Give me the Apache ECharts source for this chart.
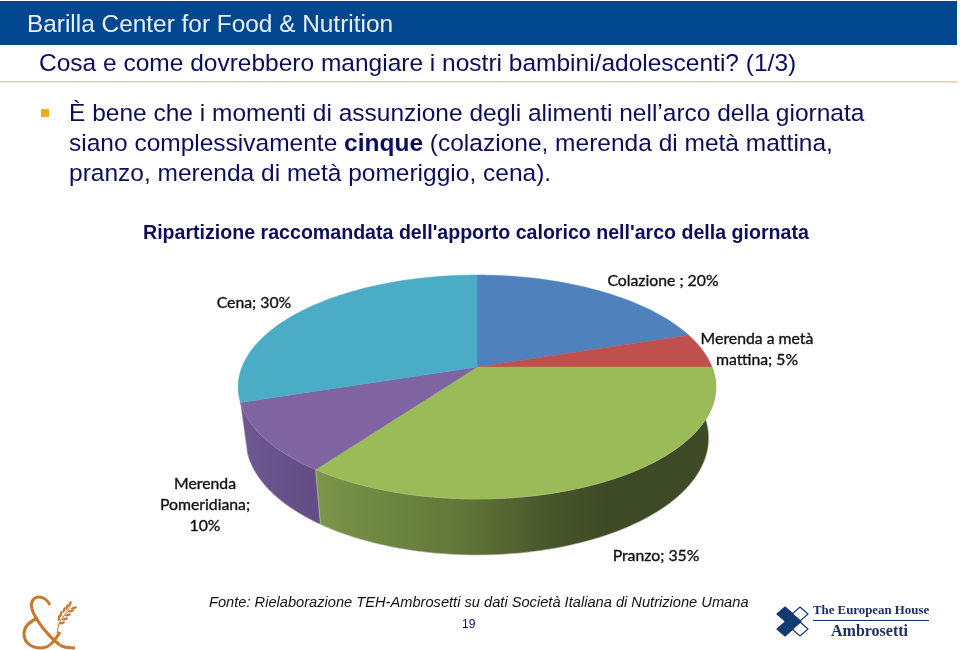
<!DOCTYPE html>
<html>
<head>
<meta charset="utf-8">
<title>Ripartizione apporto calorico</title>
<style>
  html, body { margin: 0; padding: 0; background: #fff; }
  #chart { width: 960px; height: 650px; }
</style>
<script src="https://cdn.jsdelivr.net/npm/echarts@6/dist/echarts.min.js"></script>
</head>
<body>
<div id="chart"></div>
<script>
const categories = ["Colazione", "Merenda a metà mattina", "Pranzo", "Merenda Pomeridiana", "Cena"];
const shares = [20, 5, 35, 10, 30];
const sliceLabels = ["Colazione ; 20%", "Merenda a metà\nmattina; 5%", "Pranzo; 35%", "Merenda\nPomeridiana;\n10%", "Cena; 30%"];
const sliceColors = ["#4f81bd", "#c0504d", "#9bbb59", "#8064a2", "#4bacc6"];

const total = shares.reduce((a, b) => a + b, 0);
const navy = "#0d0d5e";
const copper = "#c9772c";
const sans = "'Liberation Sans', Arial, sans-serif";
const serif = "'Liberation Serif', 'DejaVu Serif', serif";

// perspective of the tilted pie, fitted on the slice corners of the picture
const pie = { cx: 477, cy: 367, a: 235, b: 108.4, k: 0.1786 };
const labelAnchors = [[663, 281], [757, 349], [656, 556], [205, 505], [254, 303]];

function topPoint(turn) {
  const t = turn * 2 * Math.PI;
  const u = Math.sin(t);
  const v = -Math.cos(t);
  const w = 1 - pie.k * v;
  return [pie.cx + pie.a * u / w, pie.cy + pie.b * v / w];
}

function bottomPoint(turn) {
  const p = topPoint(turn);
  const v = -Math.cos(turn * 2 * Math.PI);
  return [pie.cx + 0.97 * (p[0] - pie.cx), p[1] + 50 + 6 * v];
}

function rim(from, to, fn) {
  const pts = [];
  const steps = Math.max(2, Math.ceil((to - from) * 240));
  for (let i = 0; i <= steps; i++) {
    pts.push(fn(from + (to - from) * i / steps));
  }
  return pts;
}

function sliceRange(index) {
  let before = 0;
  for (let i = 0; i < index; i++) before += shares[i];
  return [before / total, (before + shares[index]) / total];
}

const wallFills = {
  2: { type: "linear", global: true, x: 318, y: 0, x2: 712, y2: 0, colorStops: [
    { offset: 0, color: "#7a9649" },
    { offset: 0.208, color: "#6b8340" },
    { offset: 0.335, color: "#64793a" },
    { offset: 0.437, color: "#5a6c35" },
    { offset: 0.614, color: "#45522a" },
    { offset: 0.741, color: "#3e4a25" },
    { offset: 1, color: "#3e4a25" }
  ] },
  3: { type: "linear", global: true, x: 240, y: 0, x2: 318, y2: 0, colorStops: [
    { offset: 0, color: "#6d5892" },
    { offset: 1, color: "#624d84" }
  ] }
};

function renderWall(params) {
  const range = sliceRange(params.dataIndex);
  const mid = (range[0] + range[1]) / 2;
  // walls of the back slices stay hidden behind the top face
  if (Math.cos(mid * 2 * Math.PI) > 0) return null;
  const points = rim(range[0], range[1], topPoint).concat(rim(range[0], range[1], bottomPoint).reverse());
  return {
    type: "polygon",
    shape: { points: points },
    style: { fill: wallFills[params.dataIndex], stroke: "#b9b9ae", lineWidth: 0.6 }
  };
}

function renderTop(params) {
  const range = sliceRange(params.dataIndex);
  const points = [[pie.cx, pie.cy]].concat(rim(range[0], range[1], topPoint));
  const anchor = labelAnchors[params.dataIndex];
  return {
    type: "group",
    children: [
      {
        type: "polygon",
        shape: { points: points },
        style: { fill: sliceColors[params.dataIndex], stroke: sliceColors[params.dataIndex], lineWidth: 0.5 }
      },
      {
        type: "text",
        z2: 10,
        style: {
          text: sliceLabels[params.dataIndex],
          x: anchor[0],
          y: anchor[1],
          align: "center",
          verticalAlign: "middle",
          lineHeight: 21,
          fontFamily: "Lato, sans-serif",
          fontSize: 15.8,
          fill: "#111",
          stroke: "#111",
          lineWidth: 0.35
        }
      }
    ]
  };
}

function textEl(text, x, y, font, fill, extra) {
  return {
    type: "text",
    x: x,
    y: y,
    style: Object.assign({ text: text, font: font, fill: fill, verticalAlign: "middle" }, extra || {})
  };
}

// strokes of the ampersand: x1, y1, cpx1, cpy1, cpx2, cpy2, x2, y2
const ampersandStrokes = [
  [50, 605, 47, 599, 42, 597, 39, 597],
  [39, 597, 33, 597, 30, 603, 32, 609],
  [32, 609, 35, 620, 50, 638, 60, 645],
  [60, 645, 64, 648, 70, 648, 75, 648],
  [38, 618, 28, 622, 24, 628, 24, 634],
  [24, 634, 24, 643, 32, 648, 41, 648],
  [41, 648, 49, 648, 54, 642, 60, 632]
];

// ear of wheat next to the ampersand: [x, y, angle]
const wheatGrains = [
  [70, 604, 65], [74, 608, 15],
  [67, 607, 70], [71, 611, 15],
  [64, 610, 75], [68, 615, 15],
  [61, 614, 80], [65, 619, 15],
  [59, 618, 85], [62, 623, 20]
];

const logoOpen = [[800, 614], [800, 629]];
const logoSolid = [[785, 614], [785, 629], [793, 621.5]];

function diamond(d, fill, stroke) {
  return {
    type: "polygon",
    shape: { points: [[d[0], d[1] - 7], [d[0] + 8, d[1]], [d[0], d[1] + 7], [d[0] - 8, d[1]]] },
    style: { fill: fill, stroke: stroke, lineWidth: 1.2 }
  };
}

const chart = echarts.init(document.getElementById("chart"), null, { renderer: "canvas" });
chart.setOption({
  animation: false,
  backgroundColor: "#fff",
  graphic: { elements: [
    { type: "rect", shape: { x: 0, y: 1, width: 957, height: 44 }, style: { fill: "#00478f" } },
    textEl("Barilla Center for Food & Nutrition", 27, 25, "24.4px " + sans, "#e8f0f8"),
    textEl("Cosa e come dovrebbero mangiare i nostri bambini/adolescenti? (1/3)", 39, 64, "24.5px " + sans, navy),
    { type: "rect", shape: { x: 0, y: 81, width: 958, height: 1.5 }, style: { fill: "#e3d29a" } },
    { type: "rect", shape: { x: 41, y: 109, width: 8, height: 8 }, style: { fill: "#f7a823" } },
    textEl("È bene che i momenti di assunzione degli alimenti nell’arco della giornata", 69, 114, "24.5px " + sans, navy),
    textEl("siano complessivamente {b|cinque} (colazione, merenda di metà mattina,", 69, 144, "24.5px " + sans, navy, {
      rich: { b: { font: "bold 24.5px " + sans, fill: navy } }
    }),
    textEl("pranzo, merenda di metà pomeriggio, cena).", 69, 174, "24.5px " + sans, navy),
    textEl("Ripartizione raccomandata dell'apporto calorico nell'arco della giornata", 143, 234, "bold 19.6px " + sans, navy),
    textEl("Fonte: Rielaborazione TEH-Ambrosetti su dati Società Italiana di Nutrizione Umana", 209, 603, "italic 14.65px " + sans, "#111"),
    textEl("19", 462, 625, "12px " + sans, navy),
    { type: "polyline", shape: { points: [[57, 633], [59, 623], [70, 607]] }, style: { stroke: copper, lineWidth: 1, fill: "none" } }
  ].concat(ampersandStrokes.map(s => ({
    type: "bezierCurve",
    shape: { x1: s[0], y1: s[1], cpx1: s[2], cpy1: s[3], cpx2: s[4], cpy2: s[5], x2: s[6], y2: s[7] },
    style: { fill: "none", stroke: copper, lineWidth: 3 }
  }))).concat(wheatGrains.map(g => ({
    type: "ellipse",
    x: g[0],
    y: g[1],
    rotation: g[2] * Math.PI / 180,
    shape: { cx: 0, cy: 0, rx: 3.2, ry: 1.2 },
    style: { fill: copper }
  }))).concat(logoOpen.map(d => diamond(d, "#fff", "#123a73")))
    .concat(logoSolid.map(d => diamond(d, "#123a73", "#123a73")))
    .concat([
    textEl("The European House", 813, 611, "bold 12.85px " + serif, "#1b2f66"),
    { type: "rect", shape: { x: 813, y: 620, width: 116, height: 1 }, style: { fill: "#1b2f66" } },
    textEl("Ambrosetti", 831, 632, "bold 16px " + serif, "#1b2f66")
  ]) },
  series: [
    {
      type: "custom",
      name: "wall",
      coordinateSystem: "none",
      silent: true,
      z: 1,
      renderItem: renderWall,
      data: shares.map((v, i) => ({ name: categories[i], value: v }))
    },
    {
      type: "custom",
      name: "top",
      coordinateSystem: "none",
      silent: true,
      z: 2,
      renderItem: renderTop,
      data: shares.map((v, i) => ({ name: categories[i], value: v }))
    }
  ]
});
</script>
</body>
</html>
